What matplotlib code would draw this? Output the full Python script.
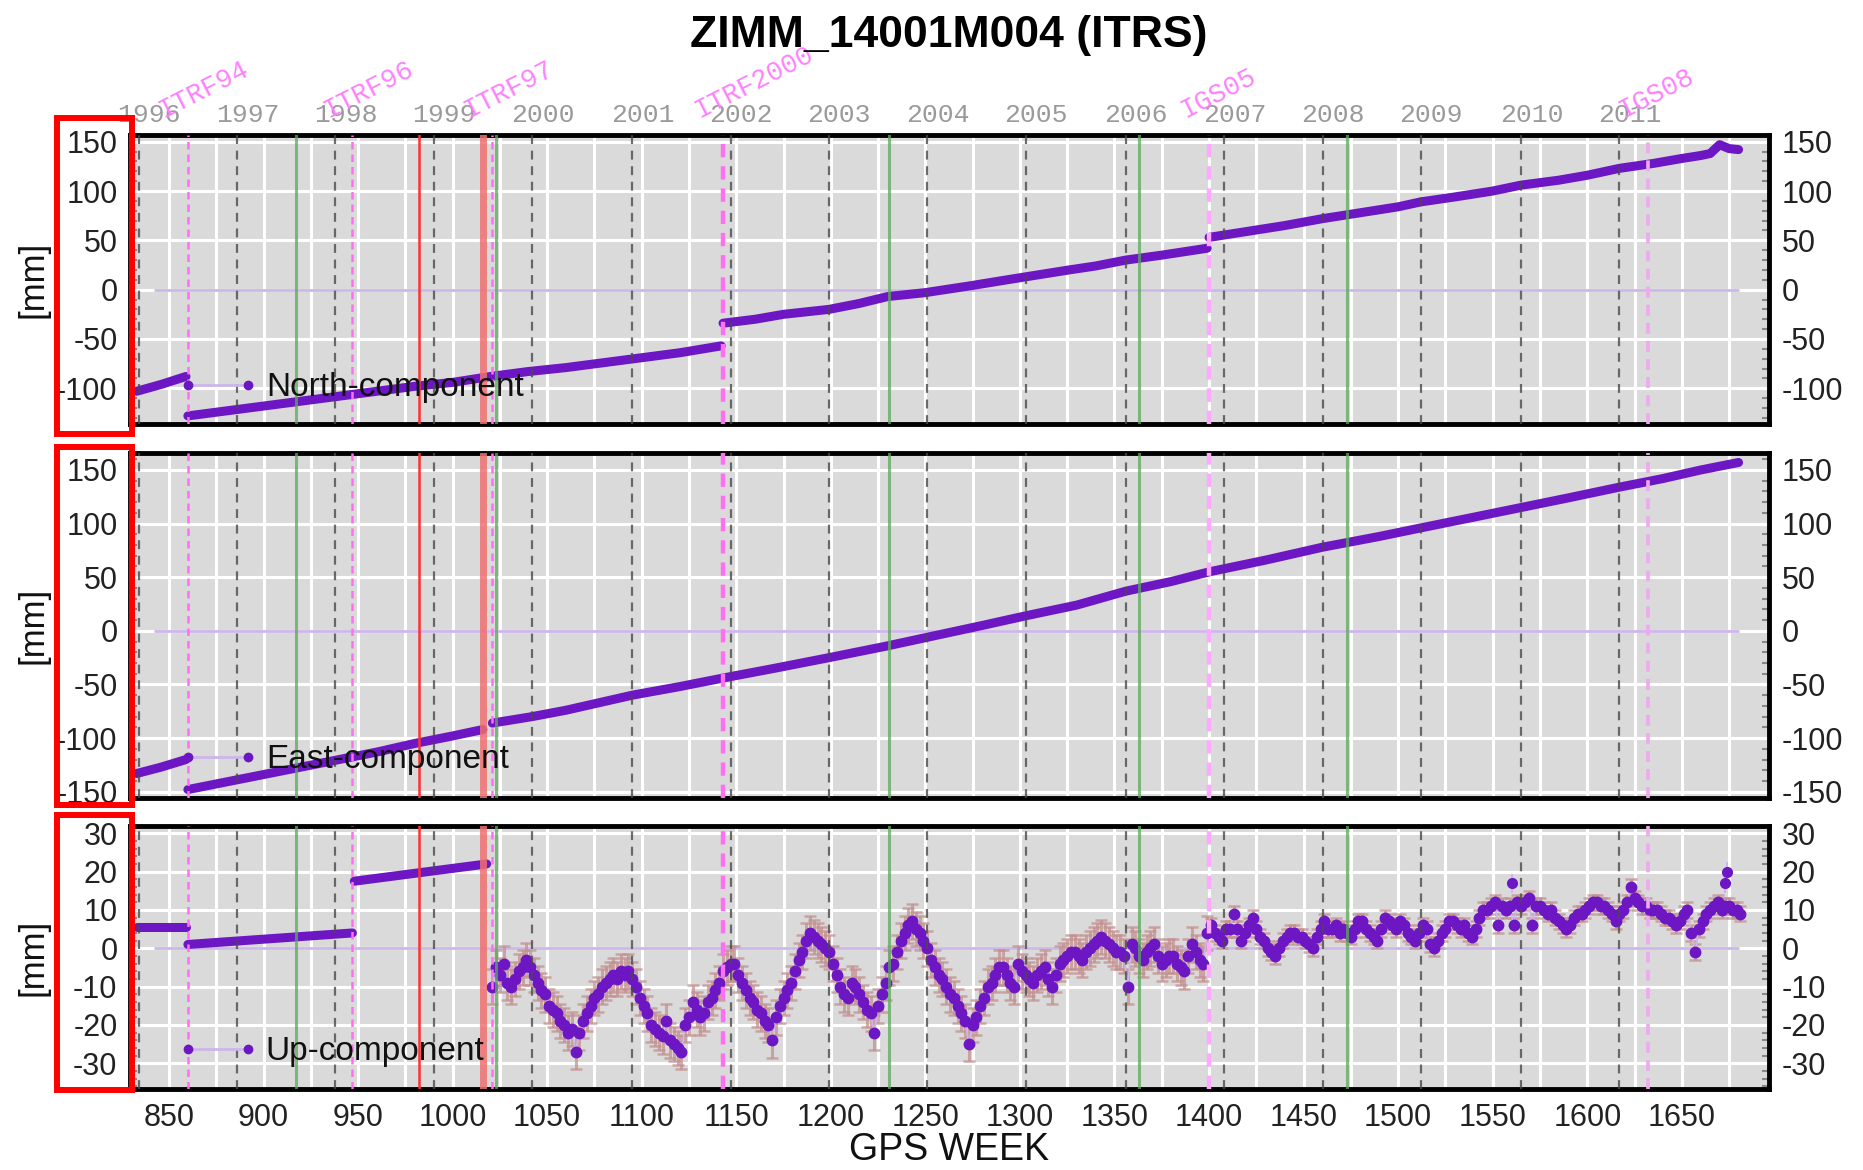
import numpy as np
import matplotlib
matplotlib.use("Agg")
import matplotlib.pyplot as plt
from matplotlib.lines import Line2D
from matplotlib.legend_handler import HandlerLine2D
from matplotlib.patches import Rectangle
from matplotlib.ticker import MultipleLocator

plt.rcParams['font.family'] = ['Liberation Sans', 'DejaVu Sans']
plt.rcParams['axes.unicode_minus'] = False

# ---------------- data ----------------
title = "ZIMM_14001M004 (ITRS)"
component_names = ["North-component", "East-component", "Up-component"]

year_labels = ['1996', '1997', '1998', '1999', '2000', '2001', '2002', '2003',
               '2004', '2005', '2006', '2007', '2008', '2009', '2010', '2011']
year_weeks = [834, 886, 938, 990, 1042, 1095, 1147, 1199, 1251, 1303, 1356,
              1408, 1460, 1512, 1565, 1617]
frame_labels = ['ITRF94', 'ITRF96', 'ITRF97', 'ITRF2000', 'IGS05', 'IGS08']
frame_weeks = [860, 947, 1021, 1143, 1400, 1632]
red_weeks = [982, 1016]
green_weeks = [917, 1023, 1231, 1363, 1473]

# North component [mm]
north_w_a = [833, 846, 859]
north_v_a = [-103, -96, -88]
north_w_b = [860, 880, 900, 920, 940, 960, 980, 1000, 1020, 1040, 1060, 1080, 1100, 1120, 1142]
north_v_b = [-128, -123, -118, -113, -108, -103, -98, -94, -88, -83, -79, -74, -69, -64, -57]
north_w_c = [1143, 1160, 1175, 1199, 1215, 1230, 1250, 1274, 1290, 1303, 1326, 1340, 1356, 1375, 1399]
north_v_c = [-34, -30, -25, -20, -14, -7, -3, 4, 9, 13, 20, 24, 30, 35, 42]
north_w_d = [1400, 1420, 1440, 1460, 1480, 1500, 1512, 1530, 1550, 1565, 1585, 1600,
             1617, 1635, 1650, 1660, 1665, 1670, 1675, 1680]
north_v_d = [53, 59, 65, 72, 78, 84, 89, 94, 100, 106, 111, 116, 123, 128, 133, 136,
             138, 147, 143, 142]

# East component [mm]
east_w_a = [833, 846, 859]
east_v_a = [-133, -127, -120]
east_w_b = [860, 880, 900, 920, 940, 960, 980, 1000, 1016]
east_v_b = [-148, -141, -134, -127, -120, -113, -105, -98, -92]
east_w_c = [1021, 1042, 1060, 1080, 1095, 1120, 1143, 1170, 1199, 1230, 1251, 1280, 1303,
            1330, 1356, 1380, 1400, 1430, 1460, 1490, 1512, 1540, 1565, 1590, 1617, 1640,
            1660, 1680]
east_v_c = [-86, -80, -74, -66, -60, -52, -44, -35, -25, -14, -6, 5, 14, 24, 37, 46, 55,
            66, 78, 88, 96, 106, 115, 124, 134, 142, 150, 157]

# Up component [mm]
up_w_a = [833, 859]
up_v_a = [5.5, 5.5]
up_w_b = [860, 947]
up_v_b = [1, 4]
up_w_c = [948, 1018]
up_v_c = [17.5, 22]
up_weeks = np.arange(1021, 1682, 2)
up_vals = [
    -10, -5, -7, -4, -9, -10, -8, -6, -5, -3,
    -5, -7, -9, -11, -12, -15, -16, -17, -19, -20,
    -22, -21, -27, -22, -19, -17, -15, -13, -12, -10,
    -9, -8, -7, -8, -6, -7, -6, -8, -10, -13,
    -15, -17, -20, -21, -22, -23, -19, -24, -25, -26,
    -27, -20, -18, -14, -16, -18, -17, -14, -13, -11,
    -9, -6, -5, -4, -4, -7, -9, -11, -13, -14,
    -16, -17, -19, -20, -24, -18, -15, -13, -11, -9,
    -6, -3, -1, 2, 4, 3, 2, 1, 0, -1,
    -4, -7, -10, -12, -13, -9, -10, -12, -14, -16,
    -17, -22, -15, -12, -9, -5, -4, -1, 2, 4,
    6, 7, 5, 4, 2, 0, -3, -5, -7, -8,
    -10, -12, -13, -15, -17, -19, -25, -20, -18, -15,
    -13, -10, -9, -7, -5, -5, -7, -9, -10, -4,
    -6, -7, -8, -9, -7, -6, -5, -8, -10, -7,
    -4, -3, -2, -1, -1, -2, -3, -1, 0, 1,
    2, 3, 2, 1, 0, -1, -1, -2, -10, 1,
    0, -2, -3, -1, 0, 1, -2, -4, -3, -2,
    -2, -4, -5, -6, -2, 1, -1, -3, -4, 4,
    6, 4, 3, 2, 5, 5, 9, 5, 2, 4,
    6, 8, 5, 3, 2, 0, -1, -2, 0, 2,
    3, 4, 4, 3, 3, 2, 1, 0, 3, 5,
    7, 5, 5, 6, 4, 5, 4, 3, 5, 7,
    7, 5, 4, 3, 2, 5, 8, 7, 6, 5,
    7, 6, 4, 3, 2, 4, 6, 5, 1, 0,
    2, 4, 5, 7, 7, 6, 5, 6, 4, 3,
    5, 8, 10, 10, 11, 12, 6, 11, 10, 11,
    6, 12, 11, 12, 13, 6, 11, 11, 10, 9,
    10, 8, 7, 6, 5, 6, 8, 9, 9, 10,
    11, 12, 12, 11, 11, 10, 9, 7, 9, 10,
    12, 16, 13, 12, 11, 11, 10, 10, 10, 9,
    8, 8, 7, 6, 7, 9, 10, 4, -1, 5,
    7, 9, 10, 11, 12, 10, 11, 11, 10, 10,
    9]
up_out_weeks = [1560, 1673, 1674]
up_out_vals = [17, 17, 20]
up_sigma_early = 4.5   # before IGS05
up_sigma_late = 2.0    # after IGS05

y_ticks = [np.arange(-100, 151, 50), np.arange(-150, 151, 50), np.arange(-30, 31, 10)]
y_lims = [(-136.2, 156.8), (-155.4, 166.3), (-36.7, 31.9)]
y_minor = [10, 10, 2]
x_ticks = np.arange(850, 1651, 50)
x_lim = (829.4, 1696.1)

# ---------------- style ----------------
PURPLE = '#6c16c4'
LAVENDER = '#cdb6ea'
ERRC = '#c49090'
BG = '#dadada'

W, H = 1863, 1170
fig = plt.figure(figsize=(W / 100, H / 100), dpi=100)


def fy(px):
    return (H - px) / H


ax_left, ax_right = 130, 1769
panels_px = [(135, 424), (452.5, 797.5), (826, 1089)]
axes = [fig.add_axes([ax_left / W, fy(b), (ax_right - ax_left) / W, (b - t) / H])
        for t, b in panels_px]

north_segs = [(north_w_a, north_v_a), (north_w_b, north_v_b),
              (north_w_c, north_v_c), (north_w_d, north_v_d)]
east_segs = [(east_w_a, east_v_a), (east_w_b, east_v_b), (east_w_c, east_v_c)]
up_segs = [(up_w_a, up_v_a), (up_w_b, up_v_b), (up_w_c, up_v_c)]
all_segs = [north_segs, east_segs, up_segs]

legend_y = [0.1246, 0.1087, 0.1418]

for i, ax in enumerate(axes):
    ax.set_facecolor(BG)
    ax.set_xlim(*x_lim)
    ax.set_ylim(*y_lims[i])
    ax.set_yticks(y_ticks[i])
    ax.yaxis.set_minor_locator(MultipleLocator(y_minor[i]))
    ax.set_xticks(x_ticks)
    ax.xaxis.set_minor_locator(MultipleLocator(25))
    ax.grid(axis='y', which='major', color='white', lw=2.2, zorder=0)
    ax.grid(axis='x', which='both', color='white', lw=2.2, zorder=0)
    ax.set_axisbelow(True)
    ax.tick_params(axis='y', which='major', length=0, labelsize=22, labelcolor='#222222',
                   left=True, right=True, labelleft=True, labelright=True, pad=9)
    ax.tick_params(axis='y', which='minor', length=5, width=1.5, color='#888888',
                   direction='in', left=True, right=True)
    ax.tick_params(axis='x', which='both', length=0, labelsize=22, labelcolor='#222222',
                   pad=10, labelbottom=(i == 2))
    for s in ax.spines.values():
        s.set_linewidth(3.5)
        s.set_color('black')

    # zero reference line
    ax.plot([842, 1680], [0, 0], color=LAVENDER, lw=2, zorder=2, solid_capstyle='butt')

    # data segments drawn as dense-point bands
    for w, v in all_segs[i]:
        ax.plot(w, v, color=PURPLE, lw=6.5, zorder=4, solid_capstyle='round')

    # event lines
    for wk in year_weeks:
        ax.axvline(wk, color='#4a4a4a', lw=1.6, ls=(0, (4, 3)), alpha=0.8, zorder=5)
    for j, wk in enumerate(frame_weeks):
        lw = 3.2 if j in (3, 4) else 1.8
        col = '#ff70f0' if j != 4 else '#ffa8ff'
        if j == 5:
            col = '#f0a8f0'
            lw = 2.6
        ax.axvline(wk, color=col, lw=lw, ls=(0, (3, 2)), zorder=5)
    ax.axvline(red_weeks[0], color='#ff3030', lw=1.8, zorder=5)
    ax.axvline(red_weeks[1], color='#f07070', lw=5, alpha=0.85, zorder=5)
    for wk in green_weeks:
        ax.axvline(wk, color='#5aaa5a', lw=2.2, alpha=0.75, zorder=5)

    # legend
    h = Line2D([], [], color=LAVENDER, lw=2, marker='o', ms=6, mfc=PURPLE, mec=PURPLE)
    ax.legend(handles=[h], labels=[component_names[i]], loc='center left',
              bbox_to_anchor=(0.0351, legend_y[i]), frameon=False, fontsize=24,
              handlelength=1.8, handletextpad=0.55, borderpad=0, borderaxespad=0,
              handler_map={h: HandlerLine2D(marker_pad=0, numpoints=2)},
              labelcolor='#111111')

# Up component noisy part with error bars
ax3 = axes[2]
up_err = np.where(up_weeks < frame_weeks[4], up_sigma_early, up_sigma_late)
ax3.errorbar(up_weeks, up_vals, yerr=up_err, fmt='none', ecolor=ERRC, elinewidth=2.2,
             capsize=4, capthick=1.8, alpha=0.75, zorder=3)
ax3.plot(up_weeks, up_vals, color=LAVENDER, lw=1.2, zorder=3.5)
ax3.plot(up_weeks, up_vals, ls='none', marker='o', ms=7.5, color=PURPLE, zorder=4)
ax3.errorbar(up_out_weeks, up_out_vals, yerr=2.5, fmt='o', ms=7, color=PURPLE,
             ecolor=LAVENDER, elinewidth=1.5, zorder=4)

# year labels and reference frame labels above the top panel
ax1 = axes[0]
for lab, wk in zip(year_labels, year_weeks):
    ax1.text(wk + 5.5, 1.069, lab, transform=ax1.get_xaxis_transform(), ha='center',
             va='center', fontsize=19, color='#9a9a9a',
             family=['Liberation Mono', 'DejaVu Sans Mono'], clip_on=False)
for lab, wk in zip(frame_labels, frame_weeks):
    ax1.text(wk - 12.7, 1.0588, lab, transform=ax1.get_xaxis_transform(), ha='left',
             va='baseline', rotation=27, rotation_mode='anchor', fontsize=19.5,
             color='#ff80ff', family=['Liberation Mono', 'DejaVu Sans Mono'], clip_on=False)

# title and axis labels
fig.text(949 / W, fy(46.7), title, ha='center', va='baseline', fontsize=32,
         fontweight='bold', color='black')
fig.text(949 / W, fy(1160), 'GPS WEEK', ha='center', va='baseline', fontsize=27,
         color='#111111')
for t, b in panels_px:
    fig.text(33 / W, fy((t + b) / 2), '[mm]', rotation=90, ha='center', va='center',
             fontsize=25, color='#111111')

# red highlight boxes around left tick labels
boxes_px = [(118, 434), (447, 805), (815, 1090)]
for t, b in boxes_px:
    fig.add_artist(Rectangle((57 / W, fy(b)), 75 / W, (b - t) / H, fill=False,
                             edgecolor='#ff0000', lw=4.3, transform=fig.transFigure,
                             zorder=10))

fig.savefig('out.png', dpi=100)
